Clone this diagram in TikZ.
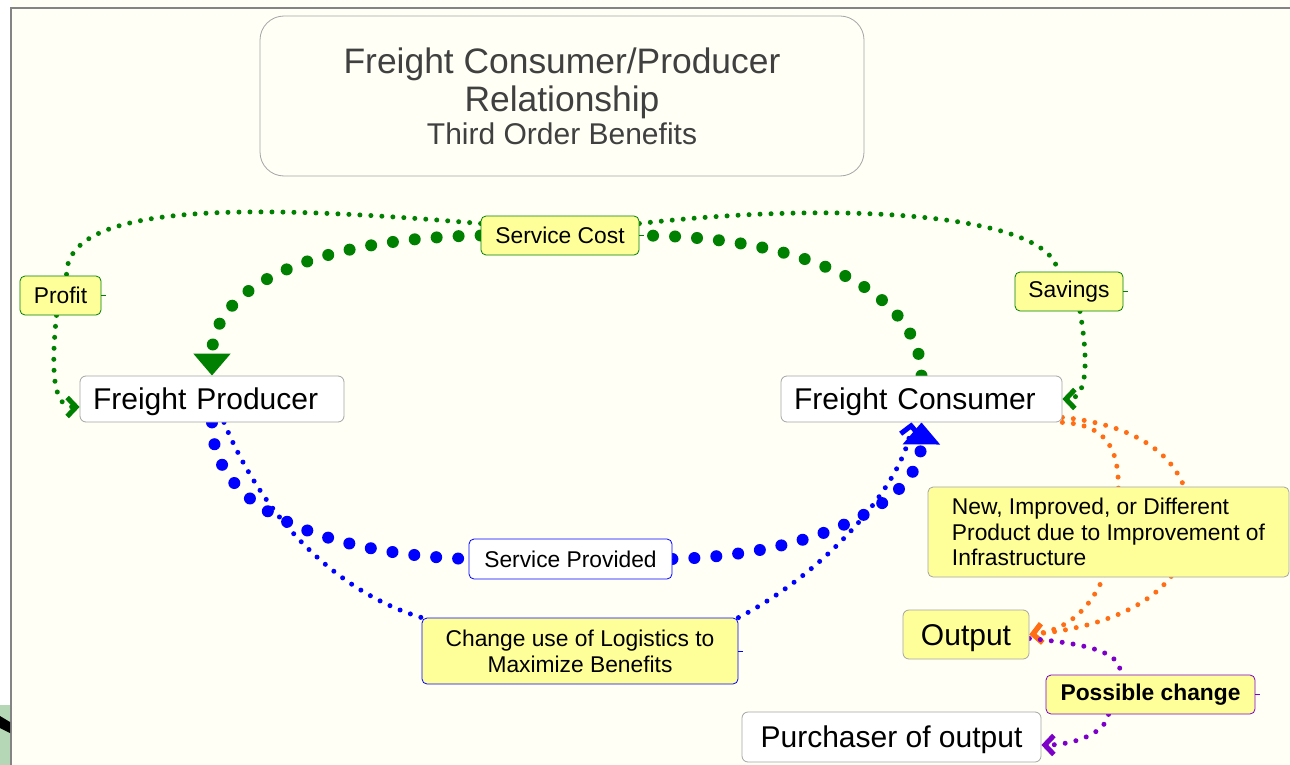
\documentclass[tikz,border=0pt]{standalone}
\usepackage{fontspec}
\setmainfont{Liberation Sans}
\usetikzlibrary{arrows.meta,calc}

\definecolor{paper}{RGB}{255,255,246}
\definecolor{notegreen}{RGB}{0,128,0}
\definecolor{noteyellow}{RGB}{255,255,153}
\definecolor{noteorange}{RGB}{255,110,20}
\definecolor{notepurple}{RGB}{125,0,200}
\definecolor{boxgray}{RGB}{165,165,165}

\pgfdeclarelayer{background}
\pgfsetlayers{background,main}

\tikzset{
  party/.style={draw=boxgray, fill=white, rounded corners=3pt, inner sep=0pt,
    font=\fontsize{15}{18}\selectfont, minimum height=23pt, text height=13.8pt, text depth=3pt},
  note/.style={draw=notegreen, fill=noteyellow, rounded corners=2.5pt, inner sep=0pt,
    font=\fontsize{11.4}{13}\selectfont, minimum height=19.5pt},
  bigdots/.style={line width=6pt, line cap=round, dash pattern=on 0pt off 11pt},
  smalldots/.style={line width=2.5pt, line cap=round, dash pattern=on 0pt off 5.5pt},
  bighead/.style={-{Triangle[width=18pt,length=11pt]}},
  smallhead/.style={-{Straight Barb[length=4.5pt,width=9.5pt]}},
}

\begin{document}
\begin{tikzpicture}[x=0.5pt, y=-0.5pt]
    \useasboundingbox (0,0) rectangle (1290,765);

    % title
    \node[draw=boxgray, fill=paper, rounded corners=12pt, minimum width=302pt, minimum height=80pt,
          align=center, text=black!75, font=\fontsize{17.7}{19}\selectfont] (title) at (562,96)
          {Freight Consumer/Producer\\Relationship\\[-2.5pt]{\fontsize{15}{17.5}\selectfont Third Order Benefits}};

    % the two parties
    \node[party, text width=119pt, inner xsep=6.5pt, align=left] (prod) at (212,399) {Freight Producer};
    \node[party, text width=127.5pt, inner xsep=6.5pt, align=left] (cons) at (921.5,399) {Freight Consumer};
    \node[party, fill=noteyellow, minimum width=63pt, minimum height=24.5pt] (output) at (966,634.5) {Output};
    \node[party, minimum width=149.5pt, minimum height=25pt] (buyer) at (891.5,737) {Purchaser of output};

    % labels
    \node[note, minimum width=79pt] (svc) at (560,235.5) {Service Cost};
    \node[note, minimum width=40.5pt] (profit) at (60.5,295.5) {Profit};
    \node[note, minimum width=54pt] (savings) at (1069,291.5) {Savings};
    \node[note, draw=blue, fill=white, minimum width=101.5pt, minimum height=20pt] (provided) at (570.5,559) {Service Provided};
    \node[note, draw=blue, minimum width=158pt, minimum height=33pt, align=center] (logistics) at (580,651)
          {Change use of Logistics to\\Maximize Benefits};
    \node[note, draw=boxgray, minimum width=180.5pt, minimum height=45pt, align=left,
          font=\fontsize{11.4}{12.75}\selectfont] (newprod) at (1108.5,532)
          {New, Improved, or Different\\Product due to Improvement of\\Infrastructure};
    \node[note, draw=notepurple, minimum width=104.5pt, font=\fontsize{11.4}{13}\selectfont\bfseries] (change) at (1150.5,694.5)
          {Possible change};

    \foreach \n/\c in {profit/notegreen, svc/notegreen, savings/notegreen, provided/blue,
                       logistics/blue, change/notepurple}
        \draw[\c, line width=0.5pt] (\n.east) -- ++(5,0);

    \begin{pgfonlayer}{background}
        \fill[white] (0,0) rectangle (1290,765);
        \fill[paper] (11,0) rectangle (1290,765);
        \draw[boxgray!80!black, line width=1pt] (11,765) -- (11,8.5) -- (1290,8.5);
        \fill[green!30!gray!45!white] (0,705) rectangle (10,765);
        \fill[black] (0,716) -- (10,722) -- (10,733) -- (0,728) -- cycle;

        % service cost
        \draw[notegreen, bigdots] (cons.north) .. controls (921,300) and (820,236) .. (svc.east);
        \draw[notegreen, bigdots, bighead] (svc.west) .. controls (330,238) and (212,280) .. (prod.north);
        % profit and savings
        \draw[notegreen, smalldots] ($(svc.west)+(0,-12)$) .. controls (260,205) and (65,200) .. ($(profit.north)+(6,0)$);
        \draw[notegreen, smalldots, smallhead] ($(profit.south)+(-4,0)$) .. controls (50,380) and (55,407) .. ($(prod.west)+(0,8)$);
        \draw[notegreen, smalldots] ($(svc.east)+(0,-12)$) .. controls (850,200) and (1050,215) .. ($(savings.north)+(-11,0)$);
        \draw[notegreen, smalldots, smallhead] ($(savings.south)+(11,0)$) .. controls (1090,370) and (1085,399) .. (cons.east);

        % service provided
        \draw[blue, bigdots] (prod.south) .. controls (212,520) and (350,555) .. (provided.west);
        \draw[blue, bigdots, bighead] (provided.east) .. controls (820,555) and (921,500) .. (cons.south);
        \draw[blue, smalldots] ($(prod.south)+(12,0)$) .. controls (260,510) and (330,590) .. (logistics.north west);
        \draw[blue, smalldots, smallhead] (logistics.north east) .. controls (830,570) and (905,480) .. ($(cons.south)+(-10,0)$);

        % new product -> output
        \draw[noteorange, smalldots, smallhead] (cons.south east) .. controls (1115,425) and (1120,460) .. (1118,500)
            .. controls (1115,600) and (1070,630) .. (output.east);
        \draw[noteorange, smalldots, smallhead] ($(cons.south east)+(0,-5)$) .. controls (1140,425) and (1190,460) .. (1190,520)
            .. controls (1190,610) and (1080,630) .. (output.east);

        % possible change
        \draw[notepurple, smalldots] ($(output.east)+(0,4)$) .. controls (1100,645) and (1121,655) .. ($(change.north)+(-30,0)$);
        \draw[notepurple, smalldots, smallhead] ($(change.south)+(-42,0)$) .. controls (1105,735) and (1070,745) .. ($(buyer.east)+(0,8)$);
    \end{pgfonlayer}
\end{tikzpicture}
\end{document}
